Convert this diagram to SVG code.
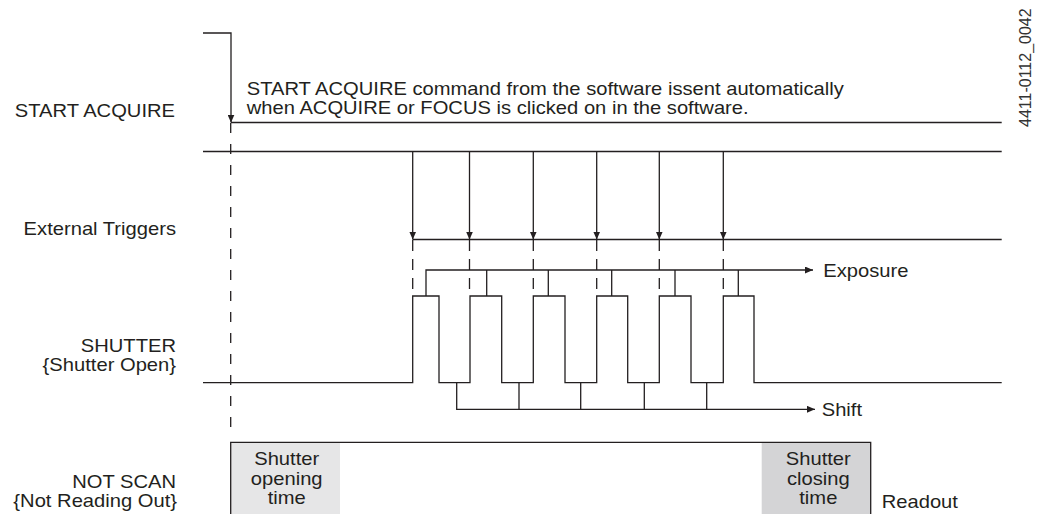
<svg xmlns="http://www.w3.org/2000/svg" width="1038" height="514" viewBox="0 0 1038 514">
<style>
.t{font-family:"Liberation Sans",Arial,sans-serif;font-size:18px;fill:#231f20}
.e{text-anchor:end}
.m{text-anchor:middle}
.ln{fill:none;stroke:#231f20;stroke-width:1.3}
.ds{fill:none;stroke:#231f20;stroke-width:1.3;stroke-dasharray:10 11}
.dt{fill:none;stroke:#231f20;stroke-width:1.3;stroke-dasharray:11 8}
.id{font-family:"Liberation Sans",Arial,sans-serif;font-size:16px;fill:#333}
</style>
<defs>
<marker id="ah" markerUnits="userSpaceOnUse" markerWidth="8" markerHeight="7" refX="8" refY="3.5" orient="auto">
<path d="M0,0 L8,3.5 L0,7 z" fill="#231f20"/>
</marker>
</defs>
<rect width="1038" height="514" fill="#fff"/>

<g id="labels">
<text class="t e" transform="translate(175,116.5) scale(1.12,1)">START ACQUIRE</text>
<text class="t e" transform="translate(176,235) scale(1.12,1)">External Triggers</text>
<text class="t e" transform="translate(176,351.5) scale(1.12,1)">SHUTTER</text>
<text class="t e" transform="translate(176,371) scale(1.12,1)">{Shutter Open}</text>
<text class="t e" transform="translate(176,487.5) scale(1.12,1)">NOT SCAN</text>
<text class="t e" transform="translate(177,507) scale(1.12,1)">{Not Reading Out}</text>
<text class="id" transform="translate(1031,127) rotate(-90)">4411-0112_0042</text>
</g>

<g id="note">
<text class="t" transform="translate(246.7,95) scale(1.12,1)">START ACQUIRE command from the software issent automatically</text>
<text class="t" transform="translate(246.7,113.5) scale(1.12,1)">when ACQUIRE or FOCUS is clicked on in the software.</text>
</g>

<g id="start-acquire">
<path class="ln" d="M203,33 H231 V122.5" marker-end="url(#ah)"/>
<path class="ln" d="M231,122.5 H1001.7"/>
</g>

<g id="external-triggers">
<path class="ln" d="M203,151.5 H1001.7"/>
<path class="ln" d="M412.7,239.5 H1001.7"/>
</g>

<g id="shutter">
<path class="ln" d="M203,382.7 H412.7 V296 H439 V382.7 H470 V296 H501.7 V382.7 H533.3 V296 H565 V382.7 H596.7 V296 H627.7 V382.7 H659.3 V296 H691 V382.7 H723.3 V296 H754 V382.7 H1001.7"/>
<text class="t" transform="translate(823.3,276.7) scale(1.12,1)">Exposure</text>
<text class="t" transform="translate(821.7,416) scale(1.12,1)">Shift</text>
</g>

<g id="not-scan">
<rect x="231" y="443" width="109" height="72" fill="#e6e6e7"/>
<rect x="761.7" y="443" width="108.4" height="72" fill="#d4d4d6"/>
<path class="ln" d="M230.7,514 V442.3 H870.7 V514"/>
<text class="t m" transform="translate(286.7,465) scale(1.12,1)">Shutter</text>
<text class="t m" transform="translate(286.7,484.5) scale(1.12,1)">opening</text>
<text class="t m" transform="translate(286.7,504) scale(1.12,1)">time</text>
<text class="t m" transform="translate(818.3,465) scale(1.12,1)">Shutter</text>
<text class="t m" transform="translate(818.3,484.5) scale(1.12,1)">closing</text>
<text class="t m" transform="translate(818.3,504) scale(1.12,1)">time</text>
<text class="t" transform="translate(881.7,508) scale(1.12,1)">Readout</text>
</g>

<g id="connectors">
<path class="ln" d="M412.7,151.5 V239.5" marker-end="url(#ah)"/>
<path class="ln" d="M469.5,151.5 V239.5" marker-end="url(#ah)"/>
<path class="ln" d="M533.3,151.5 V239.5" marker-end="url(#ah)"/>
<path class="ln" d="M596.7,151.5 V239.5" marker-end="url(#ah)"/>
<path class="ln" d="M659.3,151.5 V239.5" marker-end="url(#ah)"/>
<path class="ln" d="M723.3,151.5 V239.5" marker-end="url(#ah)"/>
<path class="ds" d="M230.7,123 V430"/>
<path class="dt" d="M412.7,240 V296 M469.5,240 V296 M533.3,240 V296 M596.7,240 V296 M659.3,240 V296 M723.3,240 V296"/>
<path class="ln" d="M426,296 V270 H813" marker-end="url(#ah)"/>
<path class="ln" d="M486.7,270 V296 M548.3,270 V296 M611.7,270 V296 M675,270 V296 M738.3,270 V296"/>
<path class="ln" d="M456.7,382.7 V409.3 H815" marker-end="url(#ah)"/>
<path class="ln" d="M519,382.7 V409.3 M580.7,382.7 V409.3 M644.3,382.7 V409.3 M706.7,382.7 V409.3"/>
</g>
</svg>
